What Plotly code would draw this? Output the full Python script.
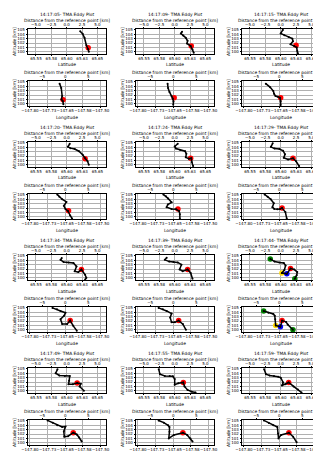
import plotly.graph_objects as go

# ---------------- data ----------------
times = ["14:17:05", "14:17:09", "14:17:15", "14:17:20", "14:17:24", "14:17:29",
         "14:17:34", "14:17:39", "14:17:44", "14:17:49", "14:17:55", "14:17:59"]

lat_tracks = [
    [65.622, 65.626, 65.629, 65.632, 65.635, 65.636],
    [65.612, 65.610, 65.614, 65.618, 65.621, 65.620, 65.626, 65.629, 65.631],
    [65.6035, 65.600, 65.606, 65.613, 65.619, 65.620, 65.616, 65.622, 65.626, 65.627, 65.628],
    [65.605, 65.602, 65.606, 65.613, 65.620, 65.626, 65.630, 65.634, 65.636],
    [65.605, 65.600, 65.602, 65.609, 65.617, 65.619, 65.618, 65.623, 65.627, 65.628, 65.630],
    [65.587, 65.584, 65.590, 65.598, 65.604, 65.607, 65.605, 65.612, 65.620, 65.625, 65.630],
    [65.592, 65.590, 65.595, 65.603, 65.611, 65.616, 65.613, 65.619, 65.624, 65.630, 65.632, 65.630],
    [65.587, 65.584, 65.591, 65.598, 65.605, 65.611, 65.608, 65.613, 65.621, 65.626, 65.629],
    [65.583, 65.590, 65.598, 65.605, 65.608, 65.606, 65.602, 65.610, 65.616, 65.622, 65.627, 65.626, 65.623],
    [65.585, 65.582, 65.588, 65.597, 65.605, 65.604, 65.603, 65.610, 65.617, 65.623, 65.621, 65.628],
    [65.574, 65.576, 65.584, 65.592, 65.597, 65.600, 65.600, 65.606, 65.614, 65.616, 65.621, 65.628, 65.634],
    [65.573, 65.576, 65.582, 65.589, 65.596, 65.600, 65.604, 65.602, 65.608, 65.613, 65.621, 65.628, 65.634],
]
lat_alts = [
    [104.7, 104.1, 103.2, 101.5, 100.6, 100.0],
    [104.6, 104.2, 103.7, 103.2, 102.5, 101.9, 101.3, 100.5, 99.8],
    [105.0, 104.2, 103.8, 103.4, 103.0, 102.4, 101.7, 101.3, 101.0, 100.2, 99.6],
    [104.8, 104.1, 103.8, 103.6, 103.1, 102.3, 101.5, 100.8, 100.0],
    [104.8, 104.2, 103.7, 103.4, 103.1, 102.5, 101.7, 101.4, 101.5, 100.6, 99.7],
    [104.9, 104.1, 103.7, 103.6, 103.2, 102.4, 101.6, 101.2, 101.5, 100.8, 99.7],
    [104.5, 104.1, 103.6, 103.5, 103.4, 102.6, 101.5, 101.3, 101.9, 100.7, 100.0, 99.6],
    [104.6, 104.1, 103.7, 103.6, 103.5, 103.0, 101.9, 101.5, 101.9, 101.1, 99.8],
    [104.3, 103.7, 103.5, 103.4, 102.8, 101.8, 101.1, 100.9, 102.1, 101.9, 101.3, 100.6, 99.8],
    [104.9, 104.0, 103.5, 103.4, 103.4, 102.3, 101.5, 101.5, 101.8, 101.6, 101.0, 100.0],
    [104.9, 103.8, 103.4, 103.4, 103.3, 102.7, 101.4, 101.7, 101.9, 101.0, 100.2, 99.8, 99.6],
    [104.9, 103.8, 103.5, 103.4, 103.2, 103.0, 101.9, 101.2, 101.5, 101.9, 101.0, 100.3, 99.6],
]
lon_tracks = [
    [-147.674, -147.667, -147.663, -147.666, -147.660, -147.658],
    [-147.674, -147.672, -147.666, -147.657, -147.652, -147.649, -147.650],
    [-147.707, -147.689, -147.675, -147.672, -147.666, -147.657, -147.647, -147.644, -147.644],
    [-147.684, -147.675, -147.663, -147.645, -147.656, -147.649, -147.638, -147.629, -147.621],
    [-147.692, -147.681, -147.672, -147.657, -147.673, -147.678, -147.657, -147.638, -147.625, -147.622, -147.622],
    [-147.712, -147.699, -147.686, -147.673, -147.679, -147.671, -147.658, -147.647, -147.638, -147.624, -147.618],
    [-147.704, -147.685, -147.670, -147.649, -147.655, -147.670, -147.663, -147.642, -147.629, -147.616, -147.601],
    [-147.712, -147.694, -147.678, -147.657, -147.663, -147.657, -147.643, -147.627, -147.609, -147.596],
    [-147.716, -147.696, -147.675, -147.669, -147.667, -147.665, -147.645, -147.638, -147.621, -147.614, -147.592],
    [-147.725, -147.703, -147.684, -147.663, -147.649, -147.656, -147.654, -147.638, -147.616, -147.601, -147.591, -147.580],
    [-147.712, -147.690, -147.672, -147.666, -147.666, -147.669, -147.647, -147.609, -147.591, -147.577, -147.568],
    [-147.715, -147.694, -147.675, -147.658, -147.655, -147.653, -147.642, -147.609, -147.591, -147.576],
]
lon_alts = [
    [104.6, 103.6, 101.8, 101.0, 100.6, 99.9],
    [104.6, 103.6, 102.7, 101.8, 101.2, 100.5, 99.8],
    [104.6, 103.8, 102.9, 102.3, 101.8, 101.6, 101.4, 100.6, 99.7],
    [105.1, 104.6, 104.0, 103.4, 102.5, 101.8, 101.3, 100.3, 99.6],
    [105.1, 104.7, 104.2, 103.3, 102.8, 102.2, 101.8, 101.7, 101.3, 100.6, 99.6],
    [105.1, 104.6, 104.0, 103.1, 102.2, 101.8, 101.7, 101.8, 102.0, 101.1, 99.6],
    [105.0, 104.7, 104.3, 103.9, 103.2, 102.4, 101.3, 101.3, 102.1, 100.9, 99.8],
    [105.0, 104.7, 104.3, 103.7, 102.8, 101.7, 101.7, 102.1, 101.3, 100.0],
    [104.3, 103.9, 103.6, 103.2, 102.4, 101.0, 100.7, 102.1, 101.8, 101.2, 100.0],
    [105.1, 104.6, 104.0, 103.6, 103.7, 102.6, 101.4, 101.5, 102.3, 101.9, 101.2, 100.3],
    [105.1, 104.6, 104.0, 103.6, 102.5, 101.0, 101.8, 102.3, 101.8, 101.0, 100.3],
    [105.1, 104.5, 104.0, 103.6, 102.1, 101.0, 101.8, 102.3, 101.4, 100.1],
]
# red reference point (lat panel / lon panel)
red_lat = [65.635, 65.627, 65.625, 65.630, 65.626, 65.620, 65.624, 65.621, 65.616, 65.617, 65.614, 65.613]
red_lat_alt = [100.9, 101.3, 101.5, 101.4, 101.5, 101.5, 101.9, 101.9, 102.1, 101.8, 101.9, 101.9]
red_lon = [-147.659, -147.646, -147.644, -147.636, -147.630, -147.638, -147.629, -147.627, -147.638, -147.616, -147.609, -147.609]
red_lon_alt = [100.9, 101.4, 101.4, 101.4, 101.8, 102.0, 102.1, 102.1, 102.1, 102.3, 102.3, 102.3]
# extra markers of the 14:17:44 panel
extra_panel = 8
extra_colors = ["green", "gold", "blue", "green"]
extra_lat = [65.583, 65.602, 65.610, 65.623]
extra_lat_alt = [104.3, 101.1, 100.9, 99.8]
extra_lon = [-147.716, -147.665, -147.645, -147.592]
extra_lon_alt = [104.3, 101.0, 100.7, 100.0]

# axes
lat_range = [65.537, 65.664]
lon_range = [-147.808, -147.477]
alt_range = [99.5, 105.2]
alt_ticks = [100, 101, 102, 103, 104, 105]
lat_ticks = [65.55, 65.575, 65.60, 65.625, 65.65]
lat_ticktext = ["65.55", "65.58", "65.60", "65.63", "65.65"]
lon_ticks = [-147.8, -147.725, -147.65, -147.575, -147.5]
lon_ticktext = ["\u2212147.80", "\u2212147.73", "\u2212147.65", "\u2212147.58", "\u2212147.50"]
km_lat_ticks = [-5, -2.5, 0, 2.5, 5]
km_lat_text = ["\u22125.0", "\u22122.5", "0.0", "2.5", "5.0"]
km_lon_ticks = [-5, 0, 5]
km_lon_text = ["\u22125", "0", "5"]
ref_lat = 65.60
ref_lon = -147.65
km_per_deg_lat = 100.0
km_per_deg_lon = 51.0

# ---------------- layout geometry (pixels) ----------------
W, H = 321, 453
col_left = [20, 128, 234]
plot_w = 78
lat_top = [21, 134, 247, 360]
lon_top = [73, 186, 299, 412]
plot_h = 25
FONT = "DejaVu Sans"
FS = 4.4
TFS = 4.0


def px_x(p):
    return p / W


def px_y(p):
    return 1 - p / H


fig = go.Figure()
layout = dict(width=W, height=H, margin=dict(l=0, r=0, t=0, b=0),
              paper_bgcolor="white", plot_bgcolor="white", showlegend=False,
              font=dict(family=FONT, size=FS, color="black"))
annotations = []

common_axis = dict(showline=True, linecolor="black", linewidth=0.6, ticks="outside",
                   ticklen=1.5, tickwidth=0.5, tickcolor="black", zeroline=False,
                   tickangle=0, automargin=False, ticklabeloverflow="allow",
                   tickfont=dict(family=FONT, size=TFS, color="black"))

s = 0
for k, t in enumerate(times):
    g, c = divmod(k, 3)
    x0 = col_left[c]
    for kind in ("lat", "lon"):
        top = lat_top[g] if kind == "lat" else lon_top[g]
        xb = 2 * s + 1
        xk = 2 * s + 2
        yn = s + 1
        xref_b = "x" if xb == 1 else f"x{xb}"
        xref_k = f"x{xk}"
        yref = "y" if yn == 1 else f"y{yn}"
        xdom = [px_x(x0), px_x(x0 + plot_w)]
        ydom = [px_y(top + plot_h), px_y(top)]
        if kind == "lat":
            rng, tv, tt = lat_range, lat_ticks, lat_ticktext
            ref, kpd = ref_lat, km_per_deg_lat
            ktv, ktt = km_lat_ticks, km_lat_text
            xs, ys = lat_tracks[k], lat_alts[k]
            rx, ry = red_lat[k], red_lat_alt[k]
            ex, ey = extra_lat, extra_lat_alt
            xlabel = "Latitude"
        else:
            rng, tv, tt = lon_range, lon_ticks, lon_ticktext
            ref, kpd = ref_lon, km_per_deg_lon
            ktv, ktt = km_lon_ticks, km_lon_text
            xs, ys = lon_tracks[k], lon_alts[k]
            rx, ry = red_lon[k], red_lon_alt[k]
            ex, ey = extra_lon, extra_lon_alt
            xlabel = "Longitude"
        krng = [(v - ref) * kpd for v in rng]

        layout[f"xaxis{xb}"] = dict(common_axis, domain=xdom, anchor=yref, range=rng,
                                    tickvals=tv, ticktext=tt, showgrid=True,
                                    gridcolor="#b0b0b0", gridwidth=0.5, side="bottom",
                                    ticklabelstandoff=-1)
        layout[f"xaxis{xk}"] = dict(common_axis, domain=xdom, anchor=yref, range=krng,
                                    overlaying=xref_b, side="top", tickvals=ktv,
                                    ticktext=ktt, showgrid=False, ticklabelstandoff=-1)
        layout[f"yaxis{yn}"] = dict(common_axis, domain=ydom, anchor=xref_b,
                                    range=alt_range, tickvals=alt_ticks, showgrid=True,
                                    gridcolor="#b0b0b0", gridwidth=0.5, mirror=True)

        # colored markers
        if k == extra_panel:
            fig.add_trace(go.Scatter(x=ex, y=ey, xaxis=xref_b, yaxis=yref, mode="markers",
                                     marker=dict(color=extra_colors, size=5.5, line=dict(width=0)),
                                     hoverinfo="skip"))
        fig.add_trace(go.Scatter(x=[rx], y=[ry], xaxis=xref_b, yaxis=yref, mode="markers",
                                 marker=dict(color="red", size=5.5, line=dict(width=0)),
                                 hoverinfo="skip"))
        # trajectory
        fig.add_trace(go.Scatter(x=xs, y=ys, xaxis=xref_b, yaxis=yref, mode="lines+markers",
                                 line=dict(color="black", width=1.5),
                                 marker=dict(color="black", size=2),
                                 hoverinfo="skip"))
        # same trajectory expressed in km on the secondary (top) axis, invisible,
        # so that the top distance axis is drawn
        fig.add_trace(go.Scatter(x=[(v - ref) * kpd for v in xs], y=ys, xaxis=xref_k,
                                 yaxis=yref, mode="markers",
                                 marker=dict(color="black", size=1, opacity=0),
                                 hoverinfo="skip"))

        cx = px_x(x0 + plot_w / 2)
        if kind == "lat":
            annotations.append(dict(text=f"{t}- TMA Eddy Plot", x=cx, y=px_y(top - 14.5),
                                    xref="paper", yref="paper", showarrow=False,
                                    xanchor="center", yanchor="middle", borderpad=0,
                                    font=dict(family=FONT, size=FS)))
        annotations.append(dict(text="Distance from the reference point [km]", x=cx,
                                y=px_y(top - 9), xref="paper", yref="paper",
                                showarrow=False, xanchor="center", yanchor="middle",
                                borderpad=0, font=dict(family=FONT, size=FS)))
        annotations.append(dict(text=xlabel, x=cx, y=px_y(top + plot_h + 11),
                                xref="paper", yref="paper", showarrow=False,
                                xanchor="center", yanchor="middle", borderpad=0,
                                font=dict(family=FONT, size=FS)))
        annotations.append(dict(text="Altitude [km]", x=px_x(x0 - 13.5),
                                y=px_y(top + plot_h / 2), xref="paper", yref="paper",
                                showarrow=False, textangle=-90, xanchor="center",
                                yanchor="middle", borderpad=0,
                                font=dict(family=FONT, size=FS)))
        s += 1

layout["annotations"] = annotations
fig.update_layout(**layout)
fig.write_html("out.html")
